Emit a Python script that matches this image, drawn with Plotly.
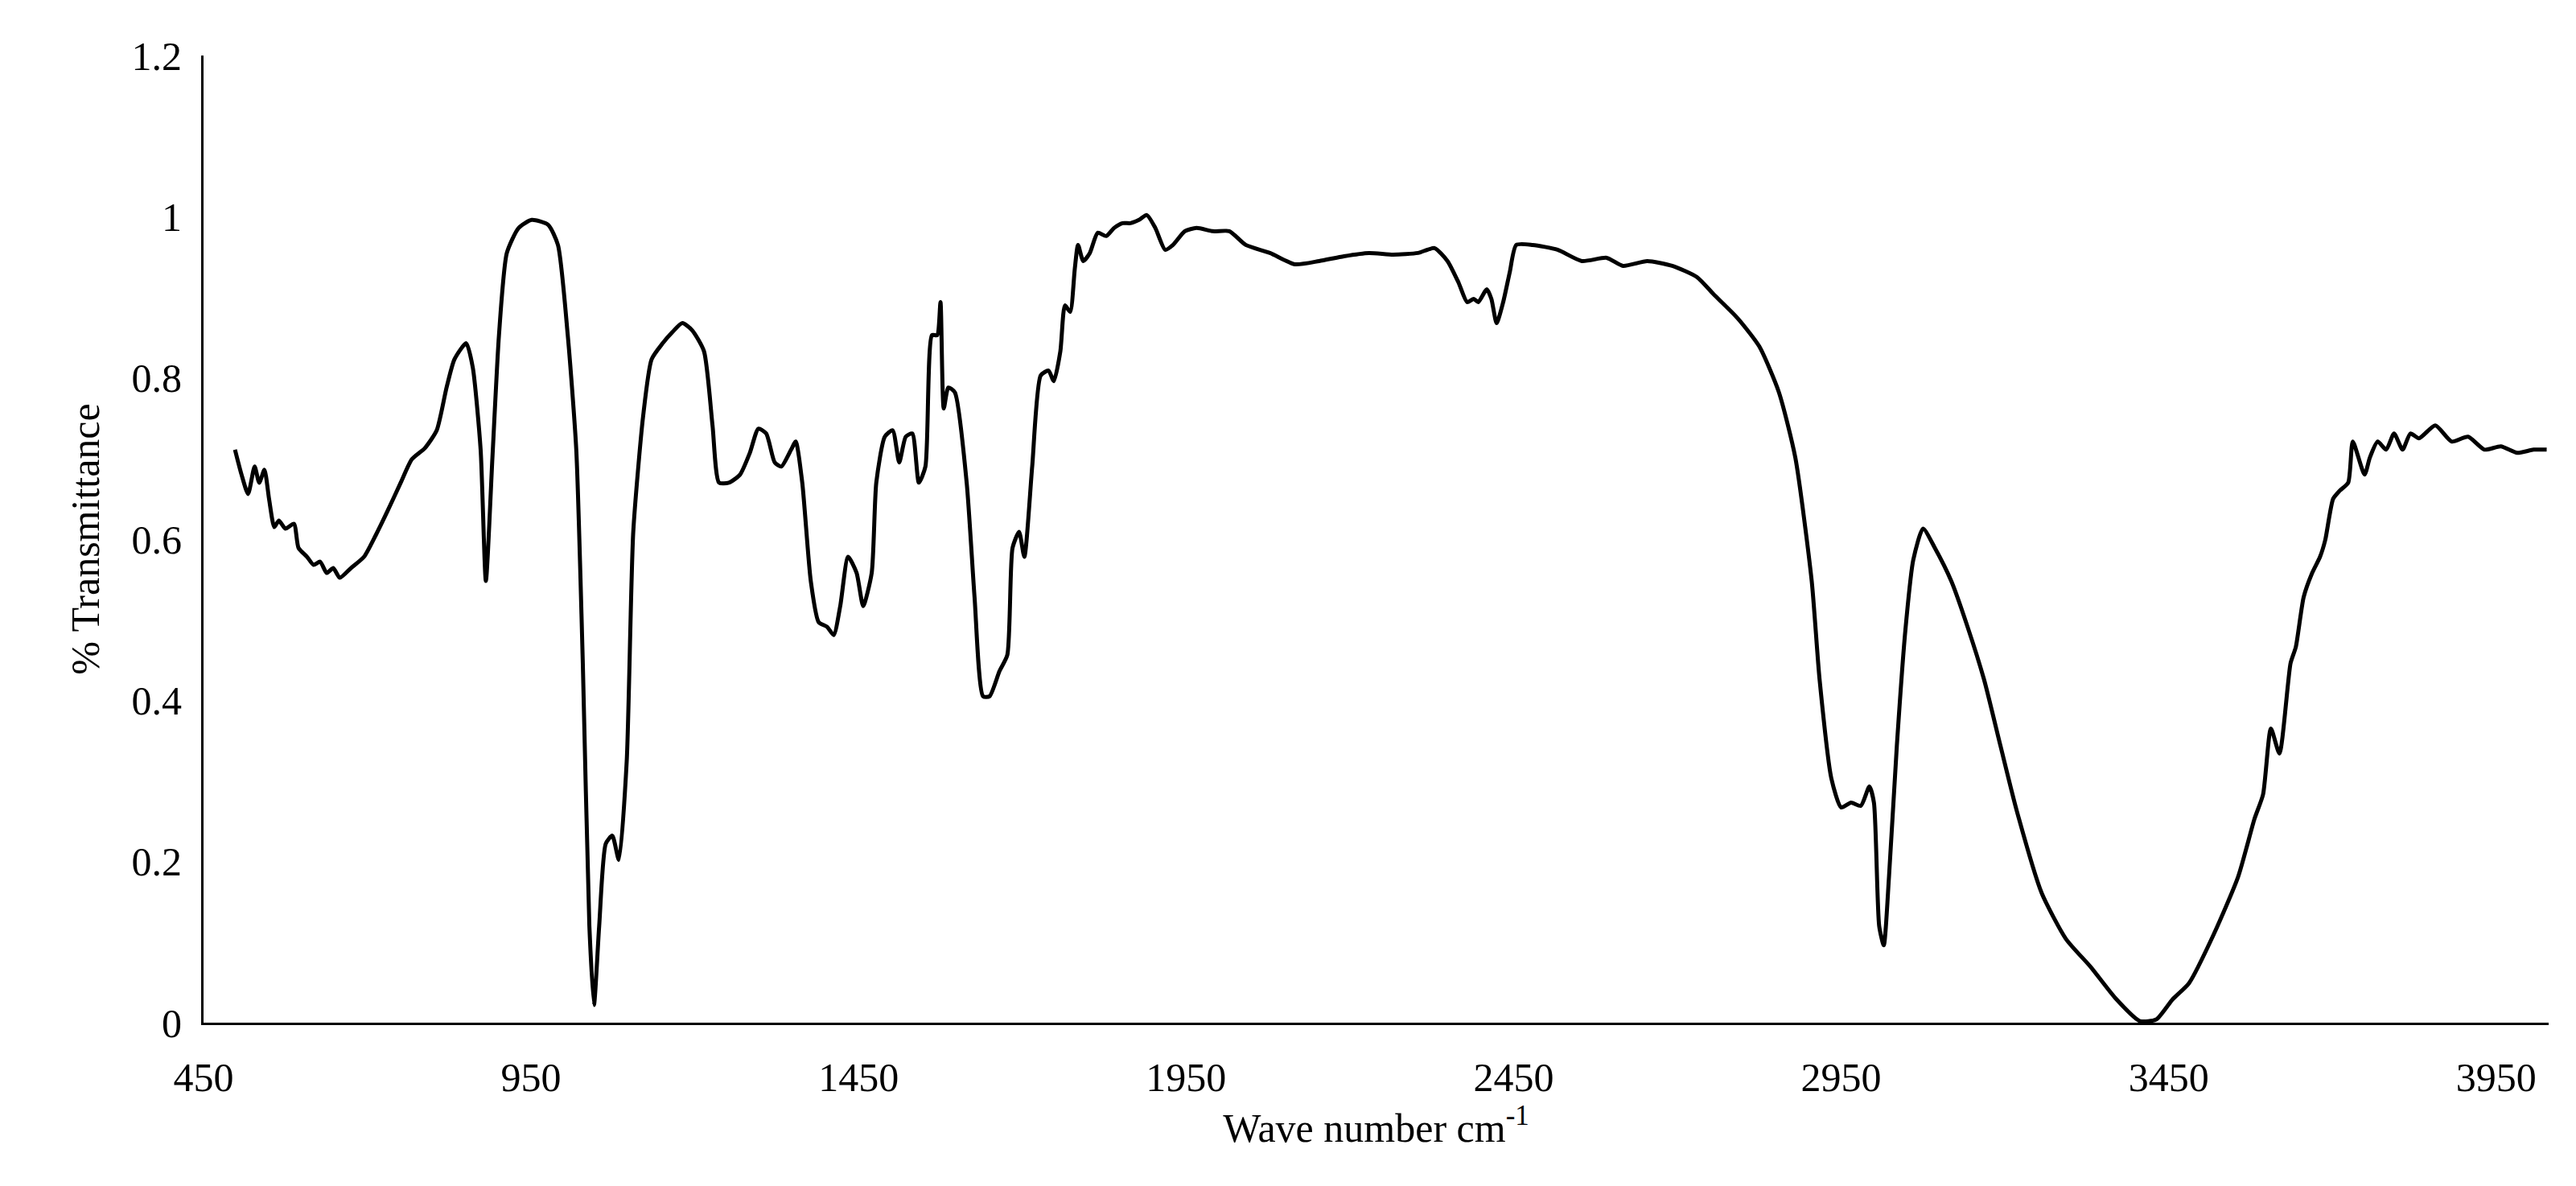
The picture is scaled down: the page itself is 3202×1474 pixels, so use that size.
import plotly.graph_objects as go

wavenumber = [498,508,518,528,535,543,550,558,565,575,588,595,608,618,628,638,648,658,675,695,713,731,751,768,788,806,821,833,851,861,873,881,891,901,913,931,951,976,991,1006,1019,1029,1039,1046,1054,1064,1074,1084,1096,1106,1121,1134,1151,1166,1181,1196,1214,1227,1237,1252,1269,1284,1297,1309,1322,1332,1347,1354,1364,1377,1389,1402,1412,1422,1434,1447,1457,1470,1477,1490,1502,1512,1522,1532,1542,1552,1562,1570,1575,1580,1587,1597,1615,1627,1640,1650,1665,1677,1685,1695,1703,1715,1728,1740,1748,1758,1765,1773,1780,1785,1793,1803,1815,1828,1840,1853,1865,1878,1890,1903,1918,1930,1948,1966,1991,2016,2041,2078,2116,2153,2191,2229,2266,2304,2329,2349,2366,2379,2389,2396,2409,2416,2424,2434,2444,2454,2479,2517,2554,2592,2617,2654,2692,2730,2755,2792,2825,2855,2880,2905,2917,2935,2950,2965,2980,2993,3000,3008,3015,3023,3035,3048,3060,3075,3093,3118,3143,3168,3193,3218,3256,3293,3331,3368,3406,3431,3456,3481,3519,3556,3581,3594,3606,3619,3636,3644,3656,3669,3681,3689,3701,3711,3724,3731,3749,3757,3769,3782,3794,3807,3819,3832,3857,3882,3907,3932,3957,3982,4007,4027]
transmittance = [0.711,0.680,0.656,0.690,0.670,0.686,0.650,0.615,0.623,0.613,0.619,0.589,0.578,0.568,0.572,0.558,0.564,0.552,0.564,0.578,0.605,0.635,0.670,0.699,0.713,0.735,0.788,0.823,0.843,0.813,0.711,0.548,0.701,0.853,0.955,0.986,0.996,0.990,0.965,0.853,0.711,0.446,0.120,0.022,0.120,0.222,0.232,0.202,0.324,0.609,0.752,0.823,0.843,0.857,0.868,0.859,0.833,0.741,0.670,0.670,0.680,0.707,0.737,0.731,0.695,0.690,0.711,0.721,0.670,0.548,0.497,0.491,0.481,0.517,0.578,0.558,0.517,0.558,0.670,0.727,0.735,0.695,0.727,0.731,0.670,0.690,0.853,0.853,0.894,0.762,0.788,0.782,0.670,0.528,0.405,0.405,0.436,0.456,0.589,0.609,0.578,0.690,0.803,0.809,0.796,0.833,0.890,0.882,0.935,0.965,0.945,0.955,0.980,0.976,0.986,0.992,0.992,0.996,1.002,0.986,0.959,0.965,0.982,0.986,0.982,0.982,0.965,0.955,0.941,0.945,0.951,0.955,0.953,0.955,0.961,0.945,0.918,0.894,0.898,0.894,0.910,0.898,0.868,0.894,0.931,0.965,0.965,0.959,0.945,0.949,0.939,0.945,0.939,0.925,0.904,0.874,0.839,0.782,0.701,0.548,0.426,0.303,0.267,0.273,0.269,0.293,0.273,0.120,0.096,0.181,0.344,0.487,0.574,0.613,0.589,0.548,0.491,0.426,0.344,0.263,0.161,0.104,0.069,0.031,0.002,0.004,0.029,0.049,0.110,0.181,0.253,0.283,0.365,0.334,0.446,0.466,0.528,0.558,0.578,0.599,0.650,0.660,0.670,0.721,0.680,0.701,0.721,0.711,0.731,0.711,0.731,0.725,0.741,0.721,0.727,0.711,0.715,0.707,0.711,0.711]

x_ticks = [450, 950, 1450, 1950, 2450, 2950, 3450, 3950]
y_ticks = [0, 0.2, 0.4, 0.6, 0.8, 1, 1.2]

fig = go.Figure(go.Scatter(x=wavenumber, y=transmittance, mode="lines",
                           line=dict(color="black", width=5, shape="spline", smoothing=0.6)))
font = dict(family="Liberation Serif", size=50, color="black")
fig.update_layout(
    width=3202, height=1474, plot_bgcolor="white", paper_bgcolor="white",
    margin=dict(l=245, r=42, t=61, b=211), showlegend=False, font=font,
    xaxis=dict(range=[450, 4030], tickvals=x_ticks, ticktext=[str(v) for v in x_ticks],
               showgrid=False, zeroline=False, showline=True, linecolor="black", linewidth=3,
               ticks="", ticklabelstandoff=22,
               title=dict(text="Wave number cm<sup>-1</sup>", font=font, standoff=10)),
    yaxis=dict(range=[0, 1.2], tickvals=y_ticks, ticktext=["0","0.2","0.4","0.6","0.8","1","1.2"],
               showgrid=False, zeroline=False, showline=True, linecolor="black", linewidth=3,
               ticks="", ticklabelstandoff=14,
               title=dict(text="% Transmittance", font=font, standoff=25)),
)
fig.write_html("out.html")
